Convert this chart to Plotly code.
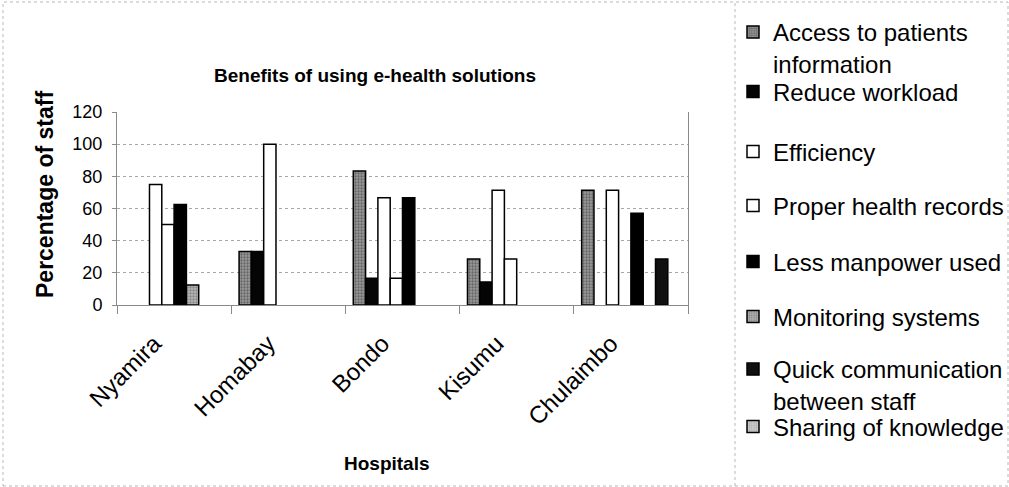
import plotly.graph_objects as go

# ---- data ----
hospitals = ["Nyamira", "Homabay", "Bondo", "Kisumu", "Chulaimbo"]
series_names = [
    "Access to patients<br>information",
    "Reduce workload",
    "Efficiency",
    "Proper health records",
    "Less manpower used",
    "Monitoring systems",
    "Quick communication<br>between staff",
    "Sharing of knowledge",
]
access = [0, 33.3, 83.3, 28.6, 71.4]
reduce_workload = [0, 33.3, 16.7, 14.3, 0]
efficiency = [75, 100, 66.7, 71.4, 71.4]
proper_records = [50, 0, 16.7, 28.6, 0]
less_manpower = [62.5, 0, 66.7, 0, 57.1]
monitoring = [12.5, 0, 0, 0, 0]
quick_comm = [0, 0, 0, 0, 28.6]
sharing = [0, 0, 0, 0, 0]
y_ticks = [0, 20, 40, 60, 80, 100, 120]

values = [access, reduce_workload, efficiency, proper_records,
          less_manpower, monitoring, quick_comm, sharing]

# ---- styles ----
fills = ["#9a9a9a", "#050505", "#ffffff", "#ffffff",
         "#000000", "#b8b8b8", "#101010", "#d4d4d4"]
patterns = [".", "", "", "", "", ".", "", "."]
pat_fg = ["#303030", None, None, None, None, "#505050", None, "#808080"]

# legend item vertical centres in pixels (of the whole 487px figure)
legend_px = [48, 92, 152, 206, 262, 317, 385, 427]

L, R, T, B = 117, 321, 112, 182
W, H = 1009, 487
pw, ph = W - L - R, H - T - B

def px_to_paper_y(y):
    return (H - B - y) / ph

def px_to_paper_x(x):
    return (x - L) / pw

fig = go.Figure()
for i, (name, vals) in enumerate(zip(series_names, values)):
    marker = dict(color=fills[i], line=dict(color="#000000", width=1.5))
    if patterns[i]:
        marker["pattern"] = dict(shape=patterns[i], fgcolor=pat_fg[i],
                                 size=3, solidity=0.45)
    lg = "legend" if i == 0 else f"legend{i+1}"
    # a 0 % value is drawn as no bar (as in the reference)
    fig.add_trace(go.Bar(x=hospitals, y=[v if v else None for v in vals],
                         name=name, marker=marker, legend=lg))

layout_legends = {}
for i in range(8):
    key = "legend" if i == 0 else f"legend{i+1}"
    layout_legends[key] = dict(
        x=px_to_paper_x(733), xanchor="left",
        y=px_to_paper_y(legend_px[i]), yanchor="middle",
        font=dict(family="Liberation Sans, Arial", size=24, color="#000"),
        bgcolor="rgba(0,0,0,0)", borderwidth=0, valign="top",
    )

fig.update_layout(
    width=W, height=H,
    margin=dict(l=L, r=R, t=T, b=B, autoexpand=False),
    paper_bgcolor="white", plot_bgcolor="white",
    barmode="group", bargap=0.138, bargroupgap=0,
    font=dict(family="Liberation Sans, Arial", color="#000"),
    showlegend=True,
    **layout_legends,
)

fig.update_yaxes(
    range=[0, 120], tickvals=y_ticks, ticktext=[str(v) for v in y_ticks],
    tickfont=dict(size=18), showgrid=True, gridcolor="#a8a8a8",
    griddash="dot", gridwidth=1, zeroline=False,
    showline=True, linecolor="#8a8a8a", linewidth=1, mirror=True,
    ticks="outside", ticklen=4, tickcolor="#8a8a8a", ticklabelstandoff=6,
)
fig.update_xaxes(
    tickangle=-45, tickfont=dict(size=24), showline=True,
    linecolor="#8a8a8a", linewidth=1, ticks="outside", tickson="boundaries",
    ticklen=8, tickcolor="#8a8a8a", showgrid=False,
    ticklabelstandoff=14, ticklabelshift=-20,
)

fig.add_annotation(text="<b>Benefits of using e-health solutions</b>",
                   xref="paper", yref="paper", x=px_to_paper_x(375),
                   y=px_to_paper_y(75), xanchor="center", yanchor="middle",
                   showarrow=False, font=dict(size=19))
fig.add_annotation(text="<b>Percentage of staff</b>", textangle=-90,
                   xref="paper", yref="paper", x=px_to_paper_x(45),
                   y=px_to_paper_y(195), xanchor="center", yanchor="middle",
                   showarrow=False, font=dict(size=23))
fig.add_annotation(text="<b>Hospitals</b>",
                   xref="paper", yref="paper", x=px_to_paper_x(387),
                   y=px_to_paper_y(463), xanchor="center", yanchor="middle",
                   showarrow=False, font=dict(size=19))

# faint chart / legend frame lines
fig.add_shape(type="rect", xref="paper", yref="paper",
              x0=px_to_paper_x(3), x1=px_to_paper_x(1008),
              y0=px_to_paper_y(486), y1=px_to_paper_y(2),
              line=dict(color="#b8b8b8", width=1, dash="dot"))
fig.add_shape(type="line", xref="paper", yref="paper",
              x0=px_to_paper_x(735), x1=px_to_paper_x(735),
              y0=px_to_paper_y(486), y1=px_to_paper_y(2),
              line=dict(color="#b8b8b8", width=1, dash="dot"))

fig.write_html("out.html",
               config={"displayModeBar": False},
               post_script="document.body.style.margin='0';"
                           "document.body.style.overflow='hidden';")
